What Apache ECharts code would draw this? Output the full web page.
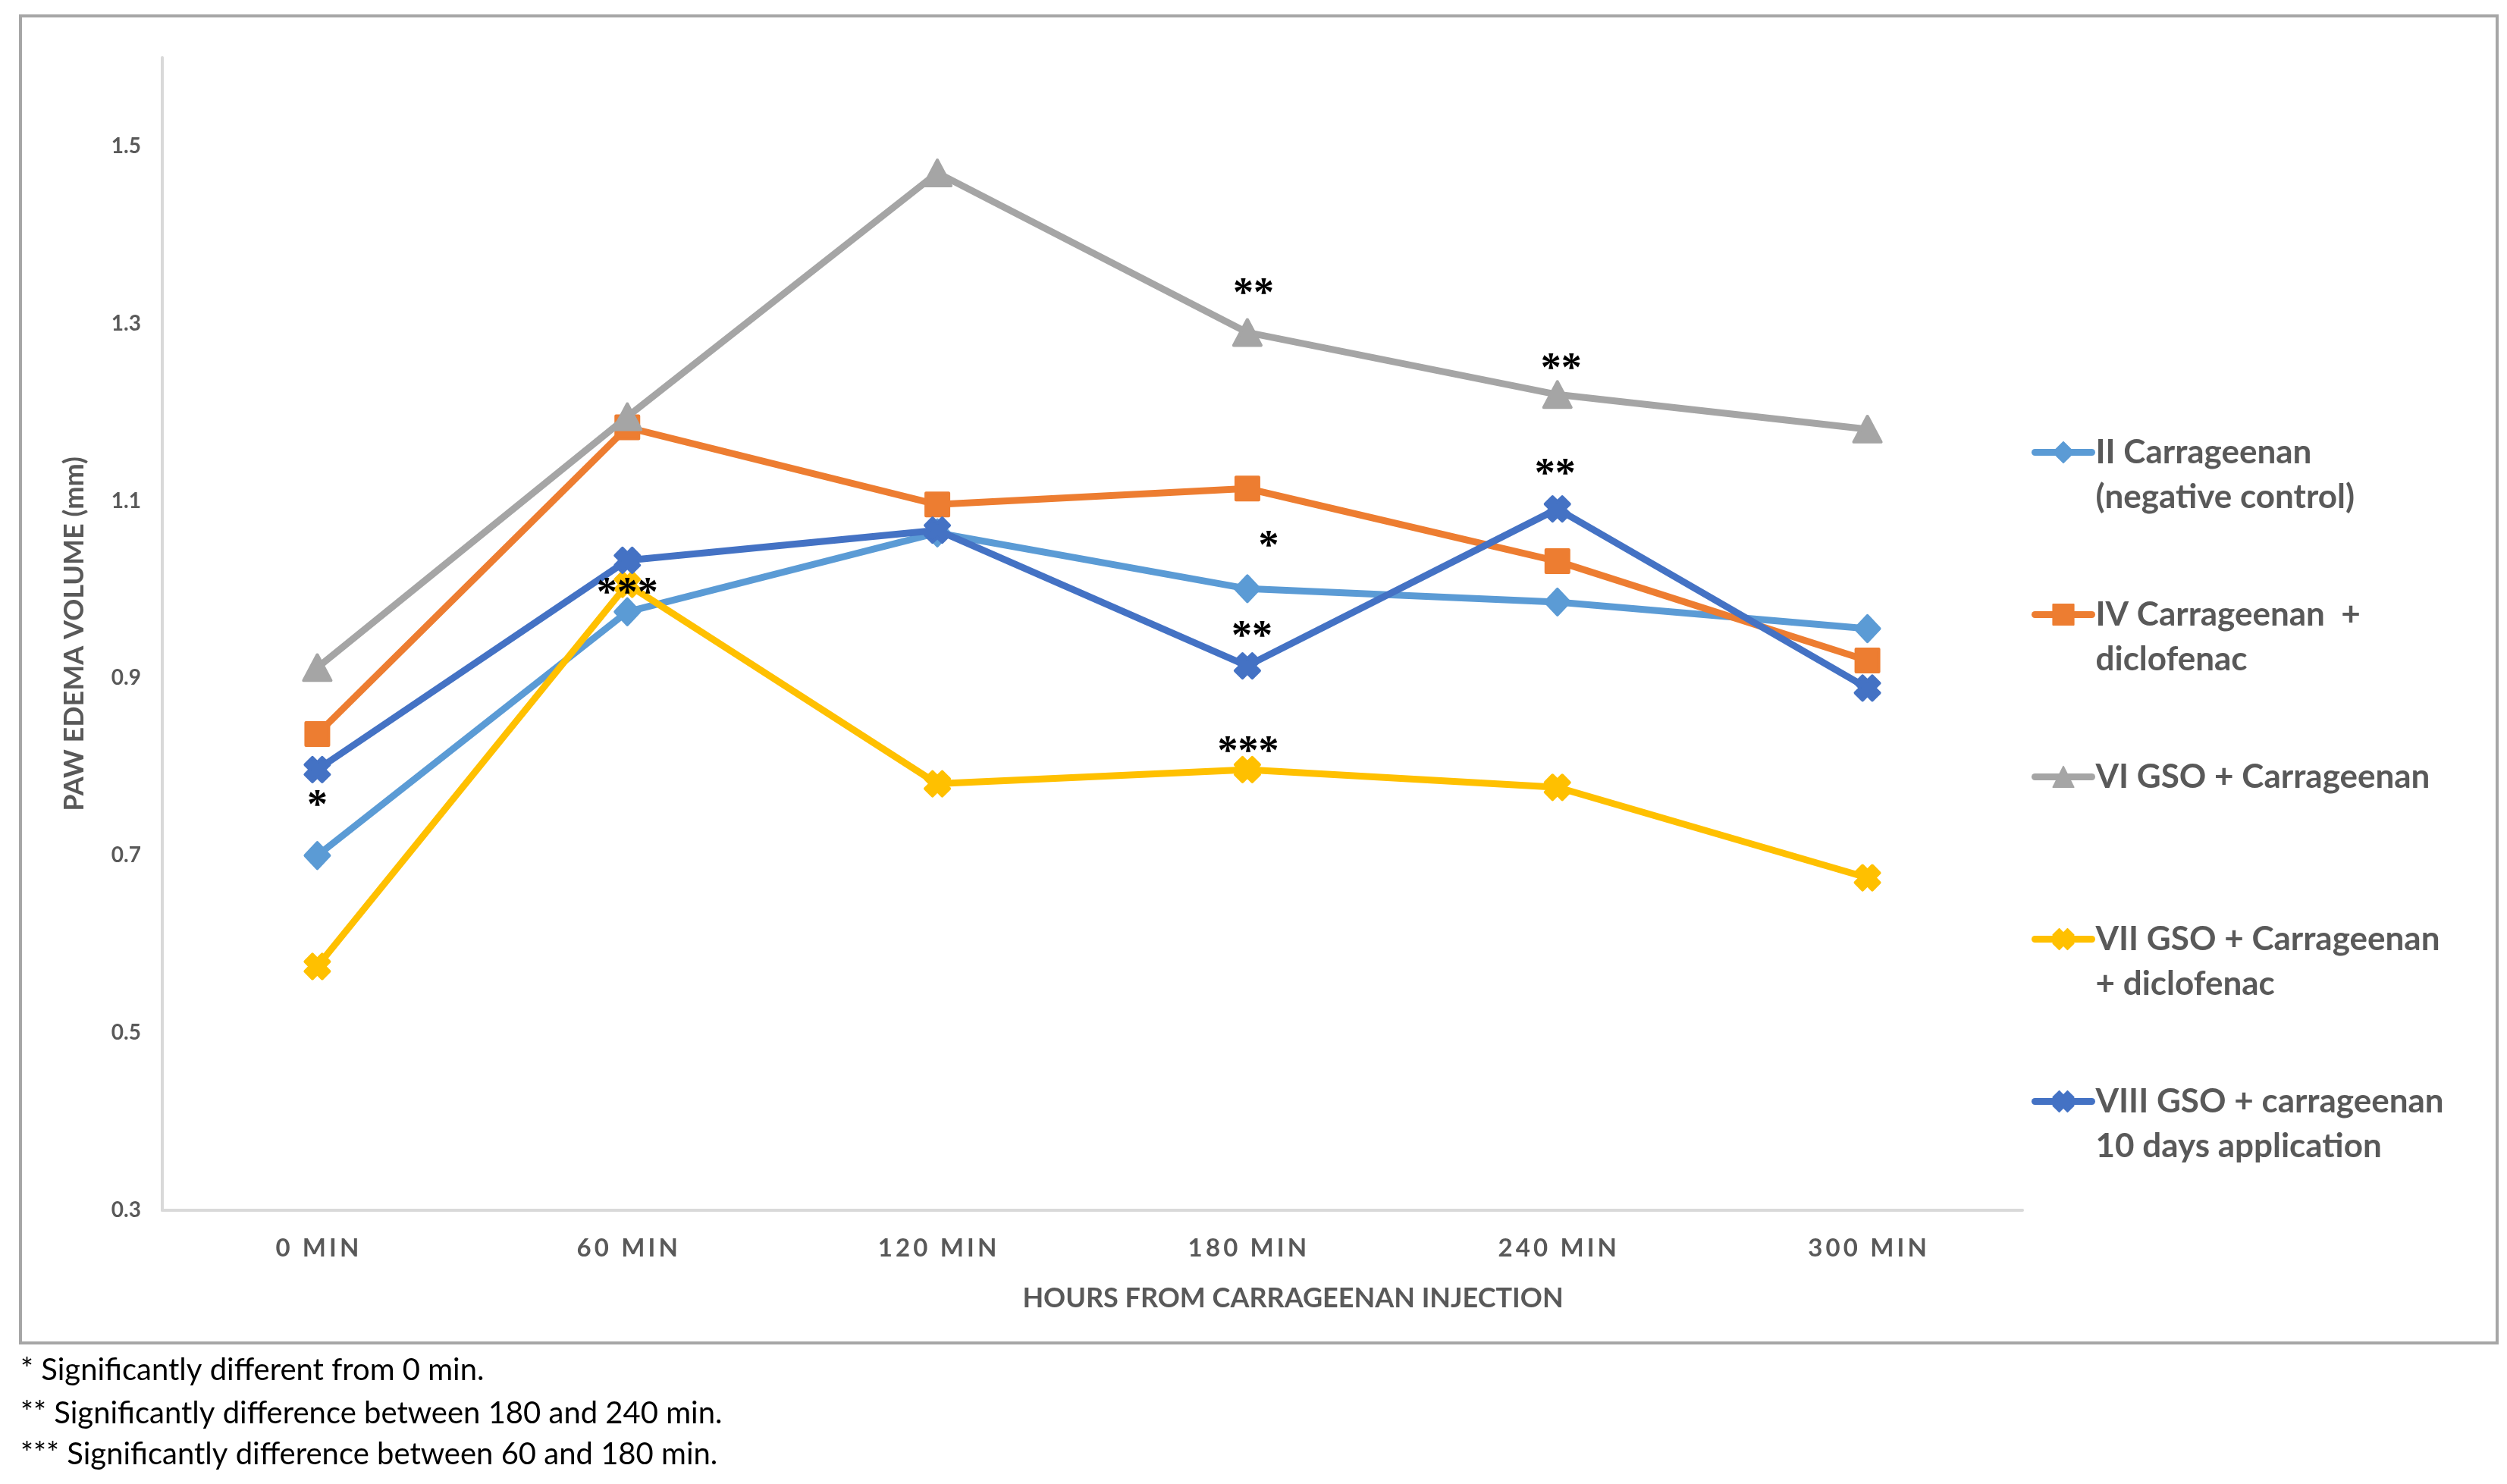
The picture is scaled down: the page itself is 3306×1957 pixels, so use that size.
<!DOCTYPE html>
<html><head><meta charset="utf-8">
<script src="https://cdn.jsdelivr.net/npm/echarts@6/dist/echarts.min.js"></script>
<style>html,body{margin:0;padding:0;background:#fff}#c{width:3306px;height:1957px}</style>
</head><body><div id="c"></div>
<script>
// ---------- DATA ----------
const categories = ['0 MIN', '60 MIN', '120 MIN', '180 MIN', '240 MIN', '300 MIN'];
const seriesNames = [
  'II Carrageenan (negative control)',
  'IV Carrageenan  + diclofenac',
  'VI GSO + Carrageenan',
  'VII GSO + Carrageenan + diclofenac',
  'VIII GSO + carrageenan 10 days application'
];
const legendLabels = [
  ['II Carrageenan', '(negative control)'],
  ['IV Carrageenan  +', 'diclofenac'],
  ['VI GSO + Carrageenan'],
  ['VII GSO + Carrageenan', '+ diclofenac'],
  ['VIII GSO + carrageenan', '10 days application']
];
const valuesII   = [0.700, 0.975, 1.064, 1.001, 0.986, 0.956];
const valuesIV   = [0.837, 1.183, 1.096, 1.114, 1.032, 0.920];
const valuesVI   = [0.912, 1.195, 1.470, 1.290, 1.220, 1.181];
const valuesVII  = [0.575, 1.006, 0.781, 0.797, 0.777, 0.675];
const valuesVIII = [0.797, 1.033, 1.067, 0.914, 1.091, 0.889];
// significance marks per point
const marksII   = ['', '', '', '*', '', ''];
const marksIV   = ['', '', '', '', '', ''];
const marksVI   = ['', '', '', '**', '**', ''];
const marksVII  = ['', '***', '', '***', '', ''];
const marksVIII = ['*', '', '', '**', '**', ''];
const yMin = 0.3, yMax = 1.6, yStep = 0.2;
const xAxisTitle = 'HOURS FROM CARRAGEENAN INJECTION';
const yAxisTitle = 'PAW EDEMA VOLUME (mm)';
const footnotes = [
  '* Significantly different from 0 min.',
  '** Significantly difference between 180 and 240 min.',
  '*** Significantly difference between 60 and 180 min.'
];

// ---------- STYLE ----------
const colors = ['#5B9BD5', '#ED7D31', '#A5A5A5', '#FFC000', '#4472C4'];
const xPath = 'path://M0,3 L3,0 L5,2 L7,0 L10,3 L8,5 L10,7 L7,10 L5,8 L3,10 L0,7 L2,5 Z';
const symbols = ['diamond', 'rect', 'triangle', xPath, xPath];
const symbolSizes = [[32, 34], [30, 30], [36, 34], [32, 32], [32, 32]];
// label offsets for marks ("series-point" -> [dx, dy] in px)
const markOffsets = {
  '0-3': [28, -54],
  '2-3': [8, -49], '2-4': [5, -32],
  '3-1': [0, 14], '3-3': [1, -22],
  '4-0': [0, 49], '4-3': [6, -37], '4-4': [-3, -44]
};
const allValues = [valuesII, valuesIV, valuesVI, valuesVII, valuesVIII];
const allMarks = [marksII, marksIV, marksVI, marksVII, marksVIII];
const gray = '#595959';
const font = 'Lato, "Open Sans", sans-serif';

const series = seriesNames.map((name, si) => ({
  name, type: 'line',
  data: allValues[si],
  symbol: symbols[si], symbolSize: symbolSizes[si], showSymbol: true,
  color: colors[si],
  itemStyle: { color: colors[si], borderColor: colors[si], borderWidth: 4, borderJoin: 'round' },
  lineStyle: { color: colors[si], width: 9, cap: 'round', join: 'round' },
  z: 2 + si
}));

const markData = [];
allMarks.forEach((arr, si) => arr.forEach((m, pi) => {
  if (m) markData.push({ pi, v: allValues[si][pi], text: m, off: markOffsets[si + '-' + pi] || [0, -30] });
}));
series.push({
  name: 'marks', type: 'custom', coordinateSystem: 'cartesian2d', z: 20,
  encode: { x: 0, y: 1 },
  data: markData.map(d => [d.pi, d.v]),
  renderItem: (params, api) => {
    const d = markData[params.dataIndex];
    const p = api.coord([api.value(0), api.value(1)]);
    return {
      type: 'text', x: p[0] + d.off[0], y: p[1] + d.off[1], z2: 100,
      style: { text: d.text, fill: '#000', font: 'bold 54px "Liberation Serif", serif', align: 'center', verticalAlign: 'middle' }
    };
  }
});

const chart = echarts.init(document.getElementById('c'), null, { renderer: 'canvas' });
chart.setOption({
  animation: false,
  backgroundColor: '#fff',
  grid: { left: 214, right: 639, top: 76, bottom: 361, containLabel: false },
  xAxis: {
    type: 'category', data: categories, boundaryGap: true,
    axisLine: { show: true, lineStyle: { color: '#d9d9d9', width: 4 } },
    axisTick: { show: false },
    axisLabel: {
      margin: 34, color: gray, fontSize: 33, fontWeight: 'bold', fontFamily: font,
      formatter: v => v.split('').join('\u2009')
    },
    splitLine: { show: false }
  },
  yAxis: {
    type: 'value', min: yMin, max: yMax, interval: yStep,
    name: yAxisTitle, nameLocation: 'middle', nameGap: 98, nameRotate: 90,
    nameTextStyle: { color: gray, fontSize: 36, fontWeight: 'bold', fontFamily: font },
    axisLine: { show: true, lineStyle: { color: '#d9d9d9', width: 4 } },
    axisTick: { show: false },
    splitLine: { show: false },
    axisLabel: {
      margin: 28, color: gray, fontSize: 28, fontWeight: 'bold', fontFamily: font,
      showMaxLabel: false, formatter: v => v.toFixed(1)
    }
  },
  legend: {
    orient: 'vertical', left: 2679, top: 508, padding: 0, itemGap: 37,
    itemWidth: 75, itemHeight: 34,
    lineStyle: { width: 9 },
    textStyle: { color: gray, fontSize: 44, fontWeight: 'bold', fontFamily: font, lineHeight: 59 },
    formatter: name => {
      const lines = legendLabels[seriesNames.indexOf(name)];
      return ' \n' + lines[0] + '\n' + (lines[1] || ' ');
    },
    data: seriesNames.slice()
  },
  graphic: [
    { type: 'rect', shape: { x: 27, y: 21, width: 3266, height: 1750 },
      style: { fill: 'none', stroke: '#a6a6a6', lineWidth: 4 }, z: -1 },
    { type: 'text', x: 1705, y: 1712,
      style: { text: xAxisTitle, fill: gray, font: 'bold 36px ' + font, textAlign: 'center', textVerticalAlign: 'middle' } },
    ...footnotes.map((t, i) => ({
      type: 'text', x: 27, y: [1807, 1864, 1918][i],
      style: { text: t, fill: '#000', font: '40px ' + font, textAlign: 'left', textVerticalAlign: 'middle' }
    }))
  ],
  series
});
</script></body></html>
